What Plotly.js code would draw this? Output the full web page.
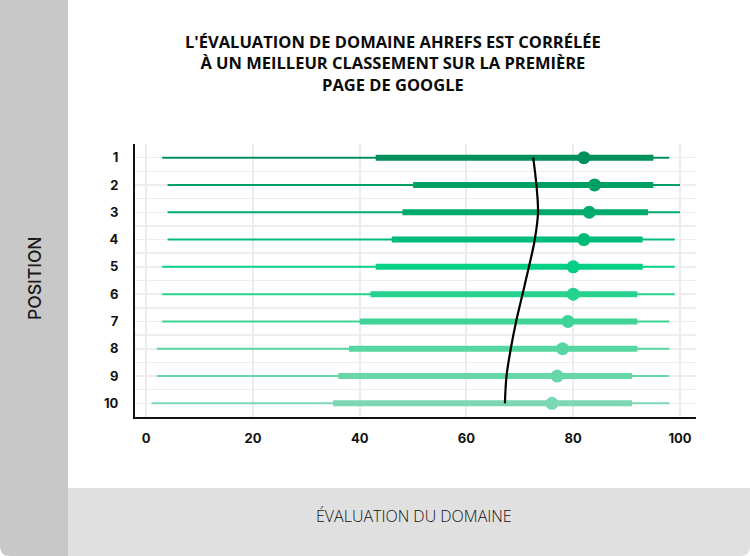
<!DOCTYPE html>
<html>
<head>
<meta charset="utf-8">
<script src="https://cdn.plot.ly/plotly-3.0.1.min.js"></script>
<style>
  html, body { margin: 0; padding: 0; background: #fff; }
  #chart { width: 750px; height: 556px; }
</style>
</head>
<body>
<div id="chart"></div>
<script>
// positions on the first Google page
const positions = [1, 2, 3, 4, 5, 6, 7, 8, 9, 10];
// domain rating spread per position
const drMin = [3, 4, 4, 4, 3, 3, 3, 2, 2, 1];
const drQ1 = [43, 50, 48, 46, 43, 42, 40, 38, 36, 35];
const drMedian = [82, 84, 83, 82, 80, 80, 79, 78, 77, 76];
const drQ3 = [95, 95, 94, 93, 93, 92, 92, 92, 91, 91];
const drMax = [98, 100, 100, 99, 99, 99, 98, 98, 98, 98];
// the black trend curve
const trendDR = [72.5, 73.1, 73.4, 72.8, 71.7, 70.5, 69.3, 68.3, 67.5, 67.2];
const rowColors = ['#00905b', '#00a065', '#00ab6c', '#00bc78', '#03cf85',
                   '#27d28e', '#3fd496', '#56d6a0', '#68d7a8', '#7cd8b4'];

const W = 750, H = 556;
const margin = { l: 135, r: 54, t: 144, b: 139 };
const plotW = W - margin.l - margin.r;
const plotH = H - margin.t - margin.b;

// pixel -> paper coords, for the grey panels and labels
function px(x) { return (x - margin.l) / plotW; }
function py(y) { return (H - margin.b - y) / plotH; }

const traces = [];
positions.forEach(function (pos, i) {
    // whisker
    traces.push({
        x: [drMin[i], drMax[i]], y: [pos, pos],
        mode: 'lines', line: { color: rowColors[i], width: 2 },
        hoverinfo: 'skip', showlegend: false
    });
    // interquartile bar
    traces.push({
        x: [drQ1[i], drQ3[i]], y: [pos, pos],
        mode: 'lines', line: { color: rowColors[i], width: 6 },
        hoverinfo: 'skip', showlegend: false
    });
    // median dot
    traces.push({
        x: [drMedian[i]], y: [pos],
        mode: 'markers', marker: { color: rowColors[i], size: 13 },
        showlegend: false
    });
});

traces.push({
    x: trendDR, y: positions,
    mode: 'lines', line: { color: '#000', width: 2.2, shape: 'spline' },
    showlegend: false
});

// path helper for the rounded grey panels
function roundedPanel(x0, y0, x1, y1, rBL, rBR) {
    const X = px, Y = py;
    let d = 'M ' + X(x0) + ',' + Y(y0);
    d += ' L ' + X(x1) + ',' + Y(y0);
    if (rBR) {
        d += ' L ' + X(x1) + ',' + Y(y1 - rBR);
        d += ' Q ' + X(x1) + ',' + Y(y1) + ' ' + X(x1 - rBR) + ',' + Y(y1);
    } else {
        d += ' L ' + X(x1) + ',' + Y(y1);
    }
    if (rBL) {
        d += ' L ' + X(x0 + rBL) + ',' + Y(y1);
        d += ' Q ' + X(x0) + ',' + Y(y1) + ' ' + X(x0) + ',' + Y(y1 - rBL);
    } else {
        d += ' L ' + X(x0) + ',' + Y(y1);
    }
    return d + ' Z';
}

const layout = {
    width: W, height: H,
    margin: margin,
    paper_bgcolor: '#fff',
    plot_bgcolor: '#fff',
    xaxis: {
        range: [-2.1, 103],
        tickvals: [0, 20, 40, 60, 80, 100],
        showgrid: true, gridcolor: '#ececec', gridwidth: 2,
        zeroline: false,
        showline: true, linecolor: '#111', linewidth: 2,
        ticks: '', ticklabelstandoff: 8,
        tickfont: { family: 'Inter', size: 13, color: '#111', weight: 700 },
        fixedrange: true
    },
    yaxis: {
        range: [10.5, 0.5],
        tickvals: positions,
        showgrid: true, gridcolor: '#eeeeee', gridwidth: 1.5,
        minor: { tickvals: [0.5, 1.5, 2.5, 3.5, 4.5, 5.5, 6.5, 7.5, 8.5, 9.5, 10.5],
                 showgrid: true, gridcolor: '#eeeeee', gridwidth: 1.5, ticks: '' },
        zeroline: false,
        showline: true, linecolor: '#111', linewidth: 2,
        ticks: '', ticklabelstandoff: 12,
        tickfont: { family: 'Inter', size: 13, color: '#111', weight: 700 },
        fixedrange: true
    },
    shapes: [
        {
            type: 'path', xref: 'paper', yref: 'paper', layer: 'below',
            path: roundedPanel(0, 0, 68, H, 10, 0),
            fillcolor: '#c8c8c8', line: { width: 0 }
        },
        {
            type: 'path', xref: 'paper', yref: 'paper', layer: 'below',
            path: roundedPanel(68, 488, W, H, 0, 10),
            fillcolor: '#e0e0e0', line: { width: 0 }
        }
    ],
    annotations: [
        {
            // chart title, three centred lines
            text: "L'ÉVALUATION DE DOMAINE AHREFS EST CORRÉLÉE<br>À UN MEILLEUR CLASSEMENT SUR LA PREMIÈRE<br>PAGE DE GOOGLE",
            xref: 'paper', yref: 'paper', x: px(393), y: py(63),
            xanchor: 'center', yanchor: 'middle', align: 'center',
            showarrow: false,
            font: { family: 'Open Sans', size: 16.5, color: '#0a0a0a', weight: 700 }
        },
        {
            text: 'POSITION', textangle: -90,
            xref: 'paper', yref: 'paper', x: px(34), y: py(278),
            xanchor: 'center', yanchor: 'middle',
            showarrow: false,
            font: { family: 'Inter', size: 17.5, color: '#1a1a1a', weight: 500 }
        },
        {
            text: 'ÉVALUATION DU DOMAINE',
            xref: 'paper', yref: 'paper', x: px(414), y: py(516),
            xanchor: 'center', yanchor: 'middle',
            showarrow: false,
            font: { family: 'Open Sans', size: 16, color: '#111', weight: 300 }
        }
    ]
};

Plotly.newPlot('chart', traces, layout, { displayModeBar: false, staticPlot: true });
</script>
</body>
</html>
